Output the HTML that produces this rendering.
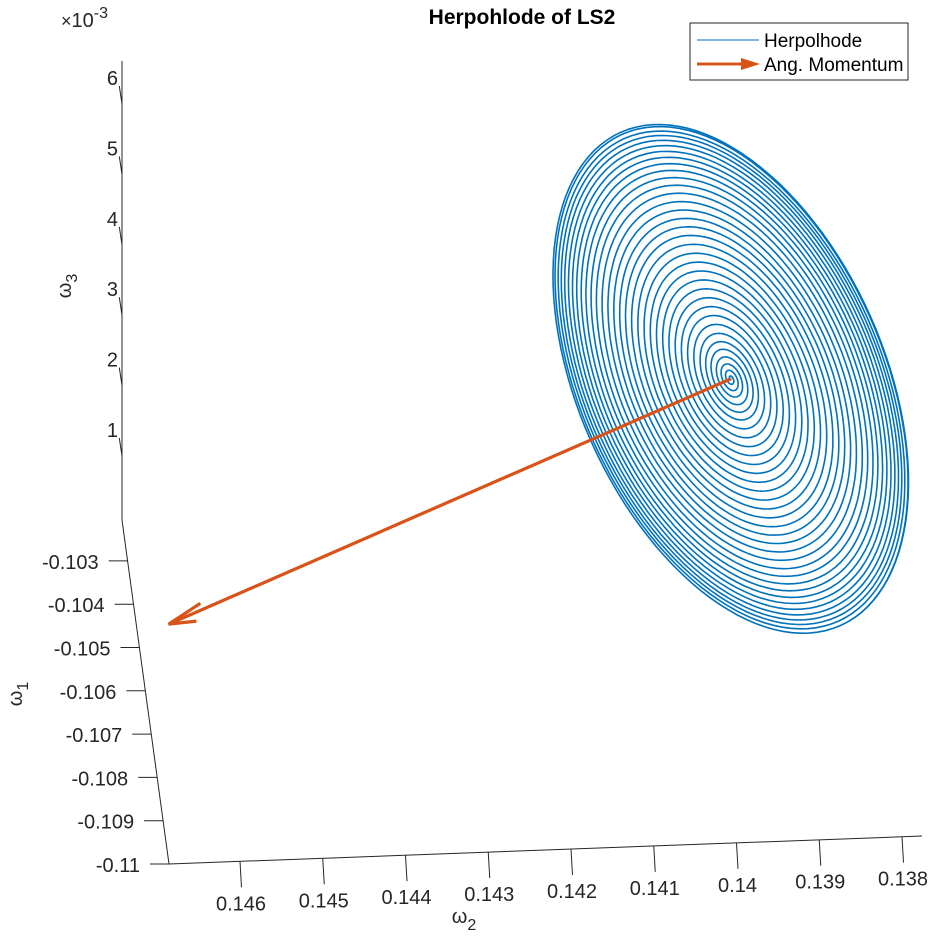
<!DOCTYPE html>
<html><head><meta charset="utf-8"><style>
html,body{margin:0;padding:0;background:#fff}
svg{display:block;font-family:"Liberation Sans",Arial,sans-serif}
</style></head><body>
<svg id="chart" width="929" height="940" viewBox="0 0 929 940" xmlns="http://www.w3.org/2000/svg">
<rect width="929" height="940" fill="#fff"/>
<text x="522" y="24" text-anchor="middle" font-size="21" font-weight="bold" fill="#000">Herpohlode of LS2</text>
<g id="axes"></g>
<g id="plot"></g>
<g>
<rect x="690" y="23" width="218" height="57" fill="#fff" stroke="#262626" stroke-width="1"/>
<line x1="697" y1="40" x2="759" y2="40" stroke="#0072BD" stroke-width="1"/>
<text x="764" y="47" font-size="19" fill="#000">Herpolhode</text>
<line x1="697" y1="64" x2="745" y2="64" stroke="#D95319" stroke-width="3"/>
<polygon points="741,58 760,64 741,70" fill="#D95319"/>
<text x="764" y="71" font-size="19" fill="#000">Ang. Momentum</text>
</g>
</svg>
<script>
const w3Ticks = [1, 2, 3, 4, 5, 6];
const w3TickLabels = ["1", "2", "3", "4", "5", "6"];
const w1Ticks = [-0.103, -0.104, -0.105, -0.106, -0.107, -0.108, -0.109, -0.11];
const w1TickLabels = ["-0.103", "-0.104", "-0.105", "-0.106", "-0.107", "-0.108", "-0.109", "-0.11"];
const w2Ticks = [0.146, 0.145, 0.144, 0.143, 0.142, 0.141, 0.14, 0.139, 0.138];
const w2TickLabels = ["0.146", "0.145", "0.144", "0.143", "0.142", "0.141", "0.14", "0.139", "0.138"];
const ringRadii = [0.02,0.045,0.07,0.10,0.13,0.16,0.195,0.23,0.265,0.30,0.335,0.37,0.405,0.44,0.475,0.51,0.545,0.58,0.613,0.646,0.679,0.712,0.745,0.775,0.805,0.832,0.858,0.882,0.905,0.927,0.947,0.965,0.982,1.0,1.0];
const spiralCenter = [0.13954, -0.10257, 0.002];
const arrowTip = [0.14647, -0.10449, 0];

const NS = "http://www.w3.org/2000/svg";
const axes = document.getElementById('axes');
const plot = document.getElementById('plot');
function mk(tag, attrs, parent){const e=document.createElementNS(NS,tag);for(const k in attrs)e.setAttribute(k,attrs[k]);parent.appendChild(e);return e;}

function w3Y(v){ return 526.4 - v*70.4; }
function w1Pt(v){ const t=(v+0.110)/0.001; return [169 - t*5.9, 864 - t*43.3]; }
function w2Pt(v){ const t=(0.146858 - v)/0.001; return [169 + t*82.75, 864 - t*3.09]; }
function P(w2,w1,w3){
  const a=(0.146858-w2)/0.001, b=(w1+0.110)/0.001, c=w3/0.001;
  return [169 + a*82.75 - b*5.9, 864 - a*3.09 - b*43.3 - c*70.4];
}

const ax = "#262626";
const FS = 20;
let e;
e = mk('line',{x1:122,y1:61,x2:122,y2:520,stroke:ax,'stroke-width':1},axes);
 
w3Ticks.forEach((v,i)=>{
  const y=w3Y(v);
  const t=mk('line',{x1:122,y1:y,x2:119.3,y2:y-18,stroke:ax,'stroke-width':1},axes);
   
  const l=mk('text',{x:118,y:y-19,'text-anchor':'end','font-size':FS,fill:ax},axes);
  l.textContent=w3TickLabels[i];
   
});
e = mk('line',{x1:122,y1:520,x2:169,y2:864,stroke:ax,'stroke-width':1},axes);
 
w1Ticks.forEach((v,i)=>{
  const [x,y]=w1Pt(v);
  const t=mk('line',{x1:x,y1:y,x2:x-19,y2:y,stroke:ax,'stroke-width':1},axes);
   
  const l=mk('text',{x:x-29,y:y+8,'text-anchor':'end','font-size':FS,fill:ax},axes);
  l.textContent=w1TickLabels[i];
   
});
e = mk('line',{x1:169,y1:864,x2:922,y2:836,stroke:ax,'stroke-width':1},axes);
 
w2Ticks.forEach((v,i)=>{
  const [x,y]=w2Pt(v);
  const t=mk('line',{x1:x,y1:y,x2:x+1.5,y2:y+26,stroke:ax,'stroke-width':1},axes);
   
  const l=mk('text',{x:x+1,y:y+49,'text-anchor':'middle','font-size':FS,fill:ax},axes);
  l.textContent=w2TickLabels[i];
   
});
e = mk('text',{x:61,y:27,'font-size':20,fill:ax},axes);
e.innerHTML='<tspan font-size="18">×</tspan>10<tspan dy="-9" font-size="16">-3</tspan>';
 
e = mk('text',{transform:'translate(71,286) rotate(-90)','font-size':20,fill:ax,'text-anchor':'middle'},axes);
e.innerHTML='ω<tspan dy="6" font-size="16">3</tspan>';
 
e = mk('text',{transform:'translate(22,694) rotate(-90)','font-size':20,fill:ax,'text-anchor':'middle'},axes);
e.innerHTML='ω<tspan dy="6" font-size="16">1</tspan>';
 
e = mk('text',{x:464,y:923,'font-size':20,fill:ax,'text-anchor':'middle'},axes);
e.innerHTML='ω<tspan dy="7" font-size="16">2</tspan>';
 

const C = P(spiralCenter[0],spiralCenter[1],spiralCenter[2]);
const A=270, B=153, th=66*Math.PI/180, ct=Math.cos(th), st=Math.sin(th);
let d='';
const steps=120;
for(let k=0;k<ringRadii.length;k++){
  const r0 = k===0?0:ringRadii[k-1], r1=ringRadii[k];
  for(let s=0;s<=steps;s++){
    if(k>0 && s===0) continue;
    const f=s/steps, r=r0+(r1-r0)*f, ph=2*Math.PI*f;
    const ex=A*r*Math.cos(ph), ey=B*r*Math.sin(ph);
    const x=C[0]+ex*ct-ey*st, y=C[1]+ex*st+ey*ct;
    d += (d?'L':'M')+x.toFixed(1)+','+y.toFixed(1);
  }
}
e = mk('path',{d:d,fill:'none',stroke:'#0072BD','stroke-width':1.6},plot);
 

const T = P(arrowTip[0],arrowTip[1],arrowTip[2]);
e = mk('line',{x1:C[0],y1:C[1],x2:T[0]+6,y2:T[1]-2.6,stroke:'#D95319','stroke-width':3.2},plot);
 
const ang=Math.atan2(C[1]-T[1],C[0]-T[0]);
function hp(off,len){return [T[0]+len*Math.cos(ang+off),T[1]+len*Math.sin(ang+off)];}
const h1=hp(0.3,28), h2=hp(-0.17,38);
e = mk('polyline',{points:`${h1[0]},${h1[1]} ${T[0]},${T[1]} ${h2[0]},${h2[1]}`,fill:'none',stroke:'#D95319','stroke-width':3.2,'stroke-linejoin':'miter'},plot);
 
</script>
</body></html>
